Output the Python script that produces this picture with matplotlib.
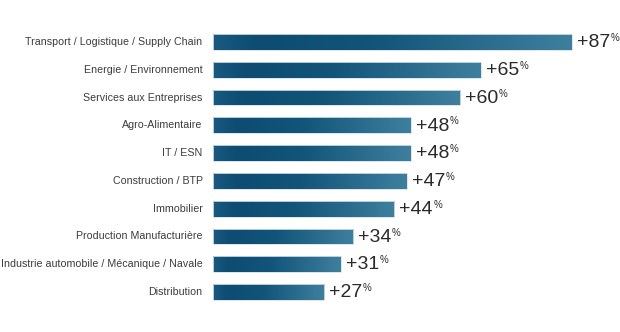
import numpy as np
import matplotlib
matplotlib.use("Agg")
import matplotlib.pyplot as plt
from matplotlib.colors import LinearSegmentedColormap

# sectors and growth (%)
sectors = [
    "Transport / Logistique / Supply Chain",
    "Energie / Environnement",
    "Services aux Entreprises",
    "Agro-Alimentaire",
    "IT / ESN",
    "Construction / BTP",
    "Immobilier",
    "Production Manufacturière",
    "Industrie automobile / Mécanique / Navale",
    "Distribution",
]
growth = [87, 65, 60, 48, 48, 47, 44, 34, 31, 27]

# bar fill: dark blue on the left, fading lighter to the right
bar_cmap = LinearSegmentedColormap.from_list(
    "bars", [(0.0, "#1a5a80"), (0.12, "#0e4c72"), (0.45, "#125579"),
             (1.0, "#3f7f9e")])

fig = plt.figure(figsize=(6.2, 3.32), dpi=100)
fig.patch.set_facecolor("white")
ax = fig.add_axes([213 / 620, 1 - 305.9 / 332, 404 / 620, 277.8 / 332])

y = np.arange(len(sectors))
bars = ax.barh(y, growth, height=0.57, color="none",
               edgecolor="#d5e2ea", linewidth=0.6, zorder=3)

grad = np.linspace(0, 1, 256).reshape(1, -1)
for b in bars:
    x0, y0 = b.get_x(), b.get_y()
    w, h = b.get_width(), b.get_height()
    im = ax.imshow(grad, cmap=bar_cmap, aspect="auto",
                   extent=(x0, x0 + w, y0 + h, y0), zorder=2)
    im.set_clip_path(b)

ax.set_xlim(0, 98)
ax.set_ylim(len(sectors) - 0.5, -0.5)
ax.axis("off")

sans = ["Liberation Sans", "DejaVu Sans"]

for yi, name in zip(y, sectors):
    ax.annotate(name, xy=(0, yi), xytext=(-7.5, 0), textcoords="offset points",
                ha="right", va="center", fontsize=7.7,
                family=sans, color="#3c3c3c")

for yi, v in zip(y, growth):
    t = ax.annotate(f"+{v}", xy=(v, yi), xytext=(3.5, -0.5),
                    textcoords="offset points", ha="left", va="center",
                    fontsize=14, family=sans, color="#2a2a2a")
    ax.annotate("%", xy=(1, 1), xycoords=t, xytext=(0.3, 0.8),
                textcoords="offset points", ha="left", va="top",
                fontsize=7, family=sans, color="#2a2a2a")

fig.savefig("out.png", dpi=100, facecolor="white")
